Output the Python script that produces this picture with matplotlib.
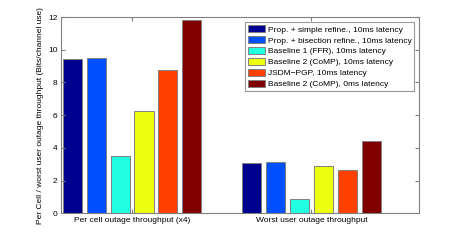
import matplotlib
matplotlib.use("Agg")
import matplotlib.pyplot as plt
import numpy as np

categories = ["Per cell outage throughput (x4)", "Worst user outage throughput"]
series_names = [
    "Prop. + simple refine., 10ms latency",
    "Prop. + bisection refine., 10ms latency",
    "Baseline 1 (FFR), 10ms latency",
    "Baseline 2 (CoMP), 10ms latency",
    "JSDM\u2212PGP, 10ms latency",
    "Baseline 2 (CoMP), 0ms latency",
]
per_cell = [9.41, 9.48, 3.50, 6.23, 8.76, 11.83]
worst_user = [3.08, 3.12, 0.86, 2.89, 2.65, 4.42]
colors = ["#00008f", "#0050ff", "#20ffdf", "#efff10", "#ff4000", "#800000"]

plt.rcParams['font.family'] = ['Liberation Sans', 'DejaVu Sans']
fig = plt.figure(figsize=(4.63, 2.4), dpi=100)
ax = fig.add_axes([61/463, 1-213.3/240, (419-61)/463, (213.3-17)/240])

n = len(series_names)
gw = 0.8
step = gw / n
bw = step * 0.8
x = np.arange(1, len(categories) + 1)
for i in range(n):
    vals = [per_cell[i], worst_user[i]]
    ax.bar(x - gw/2 + step*(i+0.5), vals, width=bw, color=colors[i],
           edgecolor="#808080", linewidth=0.7, label=series_names[i])

ax.set_xlim(0.604, 2.6)
ax.set_ylim(0, 12)
ax.set_yticks([0, 2, 4, 6, 8, 10, 12])
ax.set_xticks(x)
ax.set_xticklabels(categories)
ax.tick_params(direction="in", top=True, right=True, length=3, labelsize=6.0,
               color="#808080", pad=2.5)
for s in ax.spines.values():
    s.set_color("#808080")
    s.set_linewidth(0.8)
ax.set_ylabel("Per Cell / worst user outage throughput (Bits/channel use)", fontsize=6.0, labelpad=3)

leg = ax.legend(loc="upper right", fontsize=6.0, frameon=True, fancybox=False,
                edgecolor="#808080", borderpad=0.35, labelspacing=0.28,
                handlelength=2.1, handleheight=1.0, handletextpad=0.3,
                bbox_to_anchor=(0.987, 0.974), borderaxespad=0)
leg.get_frame().set_linewidth(0.8)

fig.savefig("out.png", dpi=100)
